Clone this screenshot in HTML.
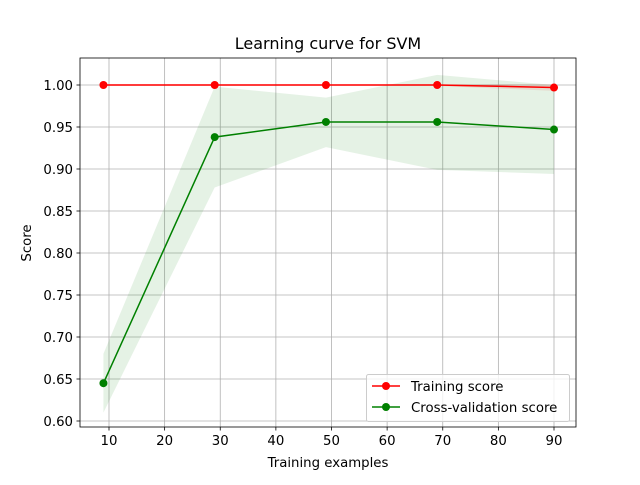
<!DOCTYPE html>
<html><head><meta charset="utf-8"><style>
body{margin:0;background:#fff;}
svg text{font-family:"DejaVu Sans","Liberation Sans",sans-serif;fill:#000;}
</style></head><body>
<svg id="chart" width="640" height="480" xmlns="http://www.w3.org/2000/svg"></svg>
<script>
const trainSizes=[9,29,49,69,90];
const trainMean=[1.0,1.0,1.0,1.0,0.997];
const trainLow=[0.999,0.999,0.999,0.999,0.993];
const trainHigh=[1.001,1.001,1.001,1.001,1.001];
const cvMean=[0.645,0.938,0.956,0.956,0.947];
const cvLow=[0.61,0.878,0.926,0.899,0.894];
const cvHigh=[0.68,0.998,0.985,1.012,1.0];
const xTicks=[10,20,30,40,50,60,70,80,90];
const yTicks=[0.60,0.65,0.70,0.75,0.80,0.85,0.90,0.95,1.00];

const svg=document.getElementById('chart');
const NS='http://www.w3.org/2000/svg';
const L=80,R=576,T=58,B=427;
function sx(v){return 109+(v-10)*(554-109)/80;}
function sy(v){return 85+(1.0-v)*(421-85)/0.4;}
function mk(tag,attrs,parent){const e=document.createElementNS(NS,tag);for(const k in attrs)e.setAttribute(k,attrs[k]);(parent||svg).appendChild(e);return e;}

xTicks.forEach(t=>{const l=mk('line',{x1:sx(t),x2:sx(t),y1:T,y2:B,stroke:'#b0b0b0','stroke-width':0.8});

});
yTicks.forEach(t=>{const l=mk('line',{x1:L,x2:R,y1:sy(t),y2:sy(t),stroke:'#b0b0b0','stroke-width':0.8});

});

function band(lo,hi,color,name){
  let d='M'+trainSizes.map((x,i)=>sx(x)+','+sy(hi[i])).join('L');
  d+='L'+trainSizes.slice().reverse().map((x,j)=>{const i=trainSizes.length-1-j;return sx(x)+','+sy(lo[i]);}).join('L')+'Z';
  const p=mk('path',{d:d,fill:color,'fill-opacity':0.1});
  
  
}
band(trainLow,trainHigh,'red','training-band');
band(cvLow,cvHigh,'green','cv-band');

function series(vals,color,name){
  const pl=mk('polyline',{points:trainSizes.map((x,i)=>sx(x)+','+sy(vals[i])).join(' '),fill:'none',stroke:color,'stroke-width':1.5});
  
  
  trainSizes.forEach((x,i)=>{const c=mk('circle',{cx:sx(x),cy:sy(vals[i]),r:4,fill:color});
  
  });
}
series(trainMean,'red','training-score');
series(cvMean,'green','cv-score');

const fr=mk('rect',{x:L,y:T,width:R-L,height:B-T,fill:'none',stroke:'#000','stroke-width':0.8});



xTicks.forEach(t=>{mk('line',{x1:sx(t),x2:sx(t),y1:B,y2:B+3.5,stroke:'#000','stroke-width':0.8});
const tx=mk('text',{x:sx(t),y:B+18,'text-anchor':'middle','font-size':13.3});tx.textContent=t;

});
yTicks.forEach(t=>{mk('line',{x1:L-3.5,x2:L,y1:sy(t),y2:sy(t),stroke:'#000','stroke-width':0.8});
const tx=mk('text',{x:L-7,y:sy(t)+5,'text-anchor':'end','font-size':13.3});tx.textContent=t.toFixed(2);

});
</script>
<svg width="640" height="480" style="position:absolute;left:0;top:0" xmlns="http://www.w3.org/2000/svg">
<text x="328" y="49" text-anchor="middle" font-size="16">Learning curve for SVM</text>
<text x="328" y="467" text-anchor="middle" font-size="13.3">Training examples</text>
<text x="31" y="243" text-anchor="middle" font-size="13.3" transform="rotate(-90 31 243)">Score</text>
<g>
<rect x="366.5" y="374.5" width="203" height="47" rx="2" fill="#fff" fill-opacity="0.8" stroke="#ccc"/>
<g>
<line x1="372" x2="400" y1="386" y2="386" stroke="red" stroke-width="1.5"/><circle cx="386" cy="386" r="4" fill="red"/>
<text x="411" y="391" font-size="13.3">Training score</text></g>
<g>
<line x1="372" x2="400" y1="407" y2="407" stroke="green" stroke-width="1.5"/><circle cx="386" cy="407" r="4" fill="green"/>
<text x="411" y="412" font-size="13.3">Cross-validation score</text></g>
</g>
</svg>
</body></html>
